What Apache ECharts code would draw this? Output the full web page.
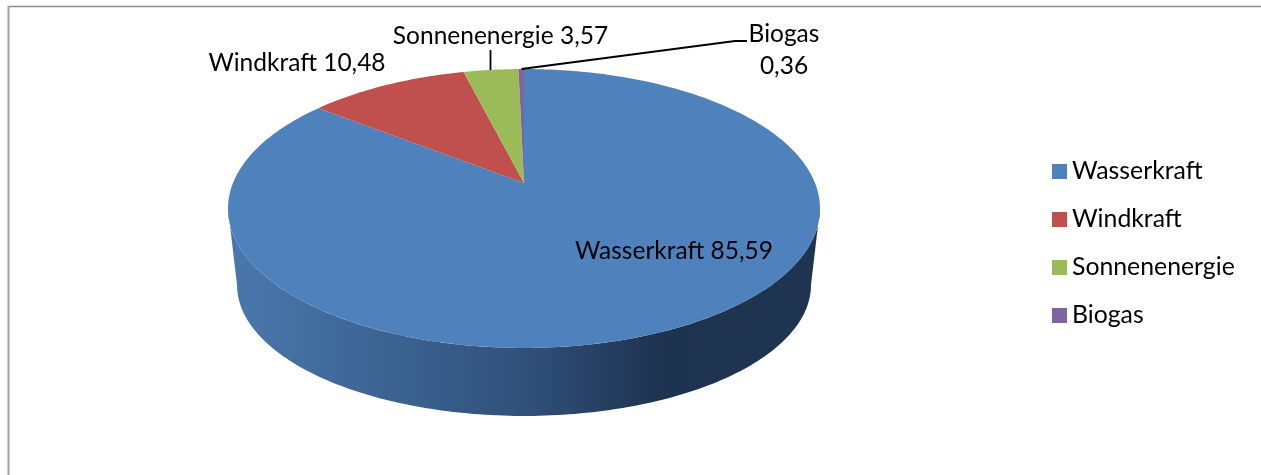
<!DOCTYPE html>
<html><head><meta charset="utf-8">
<style>html,body{margin:0;padding:0;background:#fff}#c{width:1261px;height:475px}</style>
<script src="https://cdn.jsdelivr.net/npm/echarts@6/dist/echarts.min.js"></script>
</head><body><div id="c"></div>
<script>
const categories = ['Wasserkraft', 'Windkraft', 'Sonnenenergie', 'Biogas'];
const values = [85.59, 10.48, 3.57, 0.36];
const colors = ['#4f81bd', '#c0504d', '#9bbb59', '#8064a2'];
const total = values.reduce((a, b) => a + b, 0);
const FONT = 'Lato';
const FS = 24.5;

// Perspective projection of the unit pie disc on to the page
const CX = 524, CY = 183, A = 291, B = 134.8, C = -0.1828;
function rim(deg) {
  const t = deg * Math.PI / 180, u = Math.sin(t), v = -Math.cos(t), w = 1 + C * v;
  return [CX + A * u / w, CY + B * v / w];
}
// bottom rim: same ellipse, narrower and lower
function lower(p) {
  return [CX + (p[0] - CX) * 287 / 296, 285 + (p[1] - 208.5) * 131 / 139.5];
}
const FRONT_A = 100.5, FRONT_B = 259.5;

const labelBoxes = [
  {x: 674, y: 251, mode: 'inline'},
  {x: 297, y: 63, mode: 'inline'},
  {x: 500.5, y: 36, mode: 'inline', leader: [[490.5, 50], [490.5, 70]]},
  {x: 784, y: 34, mode: 'stack', leader: [[521.5, 69], [735, 41], [747, 41]]}
];
const fmt = v => v.toFixed(2).replace('.', ',');

function renderSlice(idx, api) {
  const value = api.value(0);
  let before = 0;
  for (let i = 0; i < idx; i++) before += values[i];
  const start = before / total * 360, end = (before + value) / total * 360;
  const children = [];
  // side wall of the part of the slice that faces the viewer
  const a = Math.max(start, FRONT_A), b = Math.min(end, FRONT_B);
  if (b > a) {
    const top = [], bot = [];
    for (let d = a; d < b; d += 1) { const p = rim(d); top.push(p); bot.push(lower(p)); }
    const pe = rim(b); top.push(pe); bot.push(lower(pe));
    children.push({
      type: 'polygon', shape: {points: top.concat(bot.reverse())},
      style: {fill: new echarts.graphic.LinearGradient(0, 0, 1, 0, [
        {offset: 0, color: '#4a78ad'}, {offset: 0.5, color: '#30517a'},
        {offset: 0.73, color: '#1e3350'}, {offset: 1, color: '#1f3451'}])}
    });
  }
  // top face
  const pts = [[CX, CY]];
  const step = Math.min(1, (end - start) / 4);
  for (let d = start; d < end; d += step) pts.push(rim(d));
  pts.push(rim(end));
  children.push({type: 'polygon', shape: {points: pts}, style: {fill: colors[idx]}});
  return {type: 'group', children};
}
function renderLabel(idx, api) {
  const value = api.value(0), lb = labelBoxes[idx], children = [];
  const txt = (text, x, y) => ({type: 'text', style: {text, x, y, fill: '#000', fontFamily: FONT, fontSize: FS, align: 'center', verticalAlign: 'middle'}});
  if (lb.mode === 'stack') {
    children.push(txt(categories[idx], lb.x, lb.y), txt(fmt(value), lb.x, lb.y + 32));
  } else {
    children.push(txt(categories[idx] + ' ' + fmt(value), lb.x, lb.y));
  }
  if (lb.leader) children.push({type: 'polyline', shape: {points: lb.leader}, style: {stroke: '#000', lineWidth: 1.8, fill: null}});
  return {type: 'group', children};
}

const series = categories.map((name, i) => ({
  type: 'custom', name, coordinateSystem: 'none', silent: true, z: 2,
  itemStyle: {color: colors[i]}, data: [[values[i]]],
  renderItem: (p, api) => renderSlice(i, api)
})).concat(categories.map((name, i) => ({
  type: 'custom', name: name + ' label', coordinateSystem: 'none', silent: true, z: 3,
  data: [[values[i]]], renderItem: (p, api) => renderLabel(i, api)
})));

const chart = echarts.init(document.getElementById('c'), null, {renderer: 'canvas'});
chart.setOption({
  animation: false,
  backgroundColor: '#fff',
  legend: {
    data: categories, orient: 'vertical', left: 1052, top: 159, padding: 0,
    icon: 'rect', itemWidth: 15, itemHeight: 15, itemGap: 23, itemStyle: {borderWidth: 0},
    selectedMode: false,
    textStyle: {color: '#000', fontFamily: FONT, fontSize: 24.8}
  },
  graphic: [
    {type: 'line', shape: {x1: 8, y1: 6.5, x2: 1261, y2: 6.5}, style: {stroke: '#8c8c8c', lineWidth: 1.5}},
    {type: 'line', shape: {x1: 8.5, y1: 6, x2: 8.5, y2: 475}, style: {stroke: '#a0a0a0', lineWidth: 2}}
  ],
  series
});
</script></body></html>
